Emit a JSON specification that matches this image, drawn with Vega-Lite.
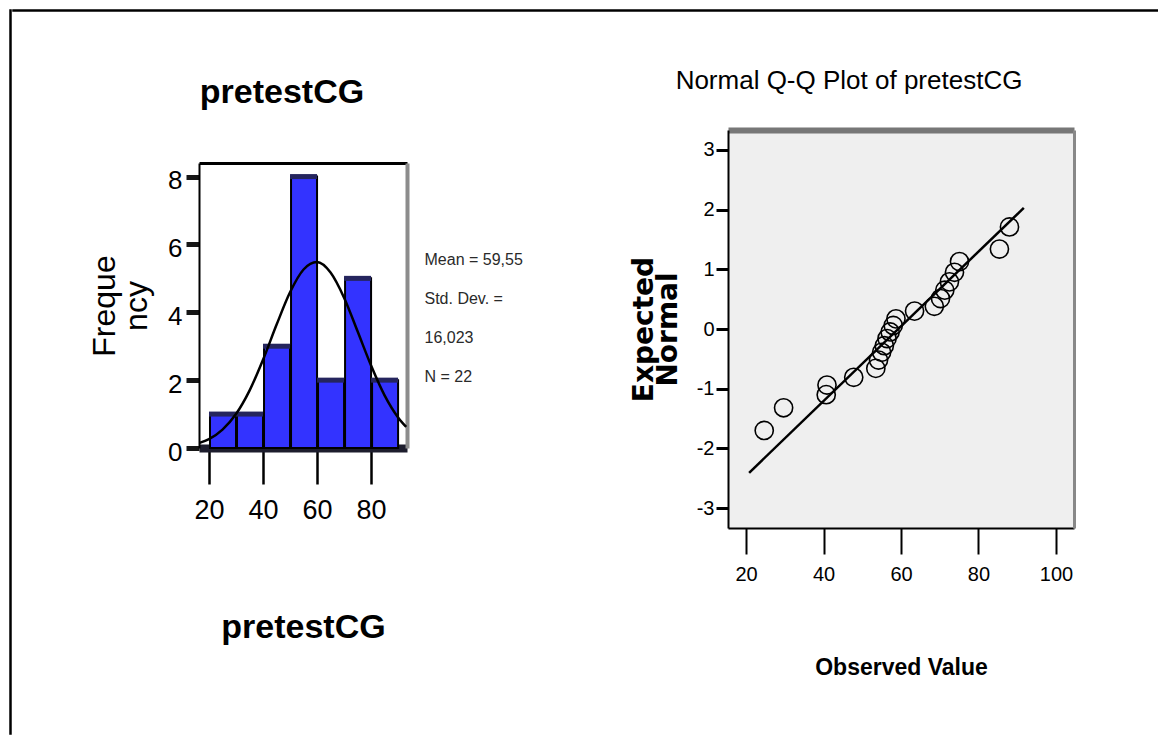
{
  "$schema": "https://vega.github.io/schema/vega-lite/v6.json",
  "padding": {"left": 9, "top": 9, "right": 0, "bottom": 0},
  "background": "white",
  "config": {"view": {"stroke": null}, "axis": {"grid": false}},
  "spacing": 0,
  "hconcat": [
    {
      "width": 1, "height": 724,
      "data": {"values": []},
      "mark": "point",
      "encoding": {},
      "view": {"stroke": "black", "strokeWidth": 1.5}
    },
    {
      "spacing": 20,
      "vconcat": [
        {
          "width": 1147, "height": 1,
          "data": {"values": []},
          "mark": "point",
          "encoding": {},
          "view": {"stroke": "black", "strokeWidth": 1.5}
        },
        {
          "spacing": 0,
          "hconcat": [
            {
              "width": 75, "height": 1,
              "data": {"values": []},
              "mark": "point",
              "encoding": {}
            },
            {
              "spacing": 107,
              "hconcat": [
                {
                  "spacing": 43,
                  "vconcat": [
                    {
                      "width": 1, "height": 1,
                      "data": {"values": []},
                      "mark": "point",
                      "encoding": {}
                    },
                    {
                      "width": 208, "height": 285,
                      "title": {"text": "pretestCG", "font": "Liberation Sans, Arial, sans-serif", "fontSize": 34, "fontWeight": "bold", "color": "black", "dx": -21, "offset": 53, "anchor": "middle"},
                      "layer": [
                        {
                          "data": {"values": [
                            {"bin_start": 20, "bin_end": 30, "count": 1},
                            {"bin_start": 30, "bin_end": 40, "count": 1},
                            {"bin_start": 40, "bin_end": 50, "count": 3},
                            {"bin_start": 50, "bin_end": 60, "count": 8},
                            {"bin_start": 60, "bin_end": 70, "count": 2},
                            {"bin_start": 70, "bin_end": 80, "count": 5},
                            {"bin_start": 80, "bin_end": 90, "count": 2}
                          ]},
                          "mark": {"type": "bar", "fill": "#3333ff", "stroke": "black", "strokeWidth": 2},
                          "encoding": {
                            "x": {"field": "bin_start", "type": "quantitative", "bin": {"binned": true},
                              "scale": {"domain": [16.3, 93.3], "nice": false, "zero": false},
                              "axis": {"orient": "bottom", "values": [20, 40, 60, 80], "title": "pretestCG",
                                "domainColor": "#1d1d2d", "domainWidth": 8, "tickColor": "black", "tickWidth": 2.5, "tickSize": 36,
                                "labelFont": "Liberation Sans, Arial, sans-serif", "labelFontSize": 27, "labelColor": "black", "labelPadding": 13, "labelFlush": false, "labelOverlap": false,
                                "titleFont": "Liberation Sans, Arial, sans-serif", "titleFontSize": 34, "titleFontWeight": "bold", "titleColor": "black", "titlePadding": 87}},
                            "x2": {"field": "bin_end"},
                            "y": {"field": "count", "type": "quantitative",
                              "scale": {"domain": [0, 8.4], "nice": false, "zero": false},
                              "axis": {"orient": "left", "values": [0, 2, 4, 6, 8], "title": ["Freque", "ncy"],
                                "domainColor": "black", "domainWidth": 2, "tickColor": "#161616", "tickWidth": 5, "tickSize": 13,
                                "labelFont": "Liberation Sans, Arial, sans-serif", "labelFontSize": 26, "labelColor": "black", "labelPadding": 4, "labelOffset": 4, "labelOverlap": false,
                                "titleFont": "Liberation Sans, Arial, sans-serif", "titleFontSize": 32, "titleFontWeight": "normal", "titleColor": "black", "titleLineHeight": 32, "titlePadding": 14}}
                          }
                        },
                        {
                          "data": {"values": [
                            {"bin_start": 20, "bin_end": 30, "count": 1},
                            {"bin_start": 30, "bin_end": 40, "count": 1},
                            {"bin_start": 40, "bin_end": 50, "count": 3},
                            {"bin_start": 50, "bin_end": 60, "count": 8},
                            {"bin_start": 60, "bin_end": 70, "count": 2},
                            {"bin_start": 70, "bin_end": 80, "count": 5},
                            {"bin_start": 80, "bin_end": 90, "count": 2}
                          ]},
                          "mark": {"type": "rule", "color": "#25255e", "strokeWidth": 5},
                          "encoding": {
                            "x": {"field": "bin_start", "type": "quantitative", "axis": null},
                            "x2": {"field": "bin_end"},
                            "y": {"field": "count", "type": "quantitative", "axis": null}
                          }
                        },
                        {
                          "data": {"values": [
                            {"score": 16.5, "density": 0.15},
                            {"score": 20, "density": 0.26},
                            {"score": 25, "density": 0.54},
                            {"score": 30, "density": 1.0},
                            {"score": 35, "density": 1.69},
                            {"score": 40, "density": 2.6},
                            {"score": 45, "density": 3.63},
                            {"score": 50, "density": 4.59},
                            {"score": 55, "density": 5.26},
                            {"score": 60, "density": 5.48},
                            {"score": 65, "density": 5.17},
                            {"score": 70, "density": 4.43},
                            {"score": 75, "density": 3.44},
                            {"score": 80, "density": 2.43},
                            {"score": 85, "density": 1.55},
                            {"score": 90, "density": 0.9},
                            {"score": 93, "density": 0.62}
                          ]},
                          "mark": {"type": "line", "color": "black", "strokeWidth": 2.5, "interpolate": "monotone"},
                          "encoding": {
                            "x": {"field": "score", "type": "quantitative",
                              "axis": {"orient": "top", "labels": false, "ticks": false, "title": null, "domainColor": "black", "domainWidth": 3}},
                            "y": {"field": "density", "type": "quantitative",
                              "axis": {"orient": "right", "labels": false, "ticks": false, "domainColor": "#8c8c8c", "domainWidth": 4,
                                "title": ["Mean = 59,55", "Std. Dev. =", "16,023", "N = 22"],
                                "titleAngle": 0, "titleAlign": "left", "titleBaseline": "top", "titleX": 17, "titleY": 88,
                                "titleFont": "Liberation Sans, Arial, sans-serif", "titleFontSize": 16, "titleFontWeight": "normal", "titleColor": "#2a2a2a", "titleLineHeight": 39}}
                          }
                        }
                      ],
                      "resolve": {"axis": {"x": "independent", "y": "independent"}}
                    }
                  ]
                },
                {
                  "spacing": 35,
                  "vconcat": [
                    {
                      "width": 1, "height": 1,
                      "data": {"values": []},
                      "mark": "point",
                      "encoding": {}
                    },
                    {
                      "width": 346, "height": 398,
                      "title": {"text": "Normal Q-Q Plot of pretestCG", "font": "Liberation Sans, Arial, sans-serif", "fontSize": 26, "fontWeight": "normal", "color": "black", "dx": -52, "offset": 36, "anchor": "middle"},
                      "view": {"fill": "#efefef", "stroke": null},
                      "layer": [
                        {
                          "data": {"values": [
                            {"observed": 24.7, "expected": -1.7},
                            {"observed": 29.7, "expected": -1.32},
                            {"observed": 40.7, "expected": -1.1},
                            {"observed": 40.9, "expected": -0.94},
                            {"observed": 47.8, "expected": -0.81},
                            {"observed": 53.5, "expected": -0.66},
                            {"observed": 54.2, "expected": -0.52},
                            {"observed": 55.0, "expected": -0.39},
                            {"observed": 55.7, "expected": -0.28},
                            {"observed": 56.4, "expected": -0.16},
                            {"observed": 57.2, "expected": -0.05},
                            {"observed": 58.0, "expected": 0.06},
                            {"observed": 58.7, "expected": 0.17},
                            {"observed": 63.5, "expected": 0.3},
                            {"observed": 68.6, "expected": 0.38},
                            {"observed": 70.2, "expected": 0.51},
                            {"observed": 71.3, "expected": 0.65},
                            {"observed": 72.5, "expected": 0.79},
                            {"observed": 73.8, "expected": 0.95},
                            {"observed": 75.1, "expected": 1.13},
                            {"observed": 85.4, "expected": 1.34},
                            {"observed": 88.0, "expected": 1.71}
                          ]},
                          "mark": {"type": "point", "shape": "circle", "filled": false, "color": "black", "strokeWidth": 1.6, "size": 330, "opacity": 1},
                          "encoding": {
                            "x": {"field": "observed", "type": "quantitative",
                              "scale": {"domain": [15.35, 104.65], "nice": false, "zero": false},
                              "axis": {"orient": "bottom", "values": [20, 40, 60, 80, 100], "title": "Observed Value",
                                "domainColor": "black", "domainWidth": 2, "tickColor": "black", "tickWidth": 2, "tickSize": 26,
                                "labelFont": "Liberation Sans, Arial, sans-serif", "labelFontSize": 20, "labelColor": "black", "labelPadding": 10, "labelFlush": false,
                                "titleFont": "Liberation Sans, Arial, sans-serif", "titleFontSize": 23, "titleFontWeight": "bold", "titleColor": "black", "titlePadding": 72}},
                            "y": {"field": "expected", "type": "quantitative",
                              "scale": {"domain": [-3.335, 3.335], "nice": false, "zero": false},
                              "axis": {"orient": "left", "values": [-3, -2, -1, 0, 1, 2, 3], "title": ["Expected", "Normal"],
                                "labelExpr": "(datum.value < 0 ? '-' : '') + abs(datum.value)",
                                "domainColor": "black", "domainWidth": 2, "tickColor": "black", "tickWidth": 3, "tickSize": 12,
                                "labelFont": "Liberation Sans, Arial, sans-serif", "labelFontSize": 20, "labelColor": "black", "labelPadding": 2,
                                "titleFont": "DejaVu Sans, sans-serif", "titleFontSize": 28, "titleFontWeight": "bold", "titleColor": "black", "titleLineHeight": 24, "titlePadding": 14}}
                          }
                        },
                        {
                          "data": {"values": [
                            {"observed": 20.8, "expected": -2.41},
                            {"observed": 91.7, "expected": 2.03}
                          ]},
                          "mark": {"type": "line", "color": "black", "strokeWidth": 2.5},
                          "encoding": {
                            "x": {"field": "observed", "type": "quantitative",
                              "axis": {"orient": "top", "labels": false, "ticks": false, "title": null, "domainColor": "#777777", "domainWidth": 6}},
                            "y": {"field": "expected", "type": "quantitative",
                              "axis": {"orient": "right", "labels": false, "ticks": false, "title": null, "domainColor": "#888888", "domainWidth": 3}}
                          }
                        }
                      ],
                      "resolve": {"axis": {"x": "independent", "y": "independent"}}
                    }
                  ]
                }
              ]
            }
          ]
        }
      ]
    }
  ]
}
